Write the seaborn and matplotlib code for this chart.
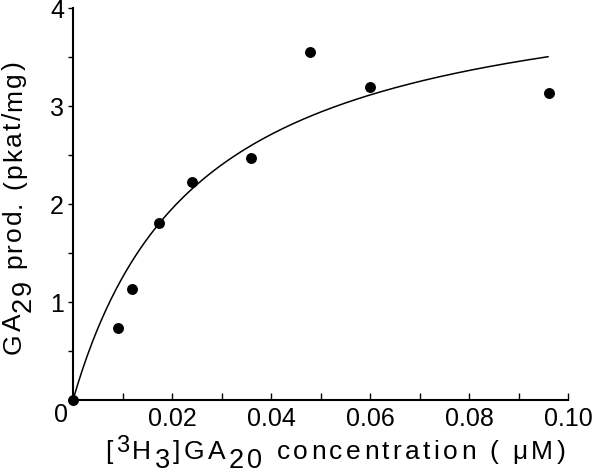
import numpy as np
import pandas as pd
import matplotlib
matplotlib.use("Agg")
import matplotlib.pyplot as plt
import matplotlib.transforms as mtransforms
from matplotlib.font_manager import FontProperties, findfont, get_font
import seaborn as sns

# measured points
conc_uM = [0.0, 0.0091, 0.0119, 0.0174, 0.0240, 0.0360, 0.0479, 0.0600, 0.0962]
prod = [0.0, 0.73, 1.13, 1.81, 2.22, 2.47, 3.55, 3.19, 3.13]

# Michaelis-Menten fit drawn through the data
vmax = 4.43
km = 0.0254
fit_end = 0.096

x_ticks = [0.02, 0.04, 0.06, 0.08, 0.10]
x_tick_labels = ["0.02", "0.04", "0.06", "0.08", "0.10"]
y_ticks = [0, 1, 2, 3, 4]
y_tick_labels = ["0", "1", "2", "3", "4"]

# axis labels as (text, size, shift up in px) so sub/superscripts keep full size
x_label = [("[", 19, 0), ("3", 17, 7), ("H", 19, 0), ("3", 19.5, -9), ("]GA", 19, 0),
           ("20", 19.5, -9), (" concentration ( \u03bcM)", 19, 0)]
y_label = [("GA", 19, 0), ("29", 19.5, -10), (" prod. (pkat/mg)", 19, 0)]

sns.set_style("white")
FAMILY = 'Liberation Sans'
plt.rcParams['font.family'] = [FAMILY, 'DejaVu Sans']
plt.rcParams['text.color'] = 'black'
plt.rcParams['xtick.color'] = 'black'
plt.rcParams['ytick.color'] = 'black'
plt.rcParams['axes.labelcolor'] = 'black'

W, H, DPI = 600, 476, 100

df = pd.DataFrame({"conc": conc_uM, "prod": prod})
s_fit = np.linspace(0, fit_end, 200)
fit_df = pd.DataFrame({"conc": s_fit, "prod": vmax * s_fit / (km + s_fit)})

fig = plt.figure(figsize=(W / DPI, H / DPI), dpi=DPI)
ax = fig.add_axes([73 / W, 1 - 400 / H, 495 / W, 392 / H])

sns.lineplot(data=fit_df, x="conc", y="prod", color="black", linewidth=1.1, ax=ax)
sns.scatterplot(data=df, x="conc", y="prod", color="black", s=62, edgecolor="black",
                linewidth=0, ax=ax, clip_on=False, zorder=3)

ax.set_xlim(0, 0.10)
ax.set_ylim(0, 4)
ax.set_xticks(x_ticks)
ax.set_xticklabels(x_tick_labels)
ax.set_xticks([0.01, 0.03, 0.05, 0.07, 0.09], minor=True)
ax.set_yticks(y_ticks)
ax.set_yticklabels(y_tick_labels)
ax.set_yticks([0.5, 1.5, 2.5, 3.5], minor=True)
ax.set_xlabel("")
ax.set_ylabel("")

for side in ["top", "right"]:
    ax.spines[side].set_visible(False)
for side in ["left", "bottom"]:
    ax.spines[side].set_linewidth(1.5)
    ax.spines[side].set_color("black")

ax.tick_params(axis="x", which="both", direction="in", length=5, width=1,
               labelsize=18, pad=5, bottom=True)
ax.tick_params(axis="y", which="both", direction="out", length=3.5, width=1,
               labelsize=18, pad=3, left=True)

# origin label sits a little lower, at the corner
lbl0 = ax.get_yticklabels()[0]
lbl0.set_transform(lbl0.get_transform() + mtransforms.ScaledTranslation(3 / 72, -9 / 72, fig.dpi_scale_trans))

ft = get_font(findfont(FontProperties(family=FAMILY)))


def advance(ch, size):
    ft.set_size(size, DPI)
    return ft.load_char(ord(ch)).linearHoriAdvance / 65536


def spaced_label(pieces, start, base, track, vertical=False):
    # lay out characters one by one with extra letter spacing (pixel coords)
    pos = start
    for txt, size, shift in pieces:
        for ch in txt:
            if vertical:
                fig.text((base - shift) / W, pos / H, ch, fontsize=size, rotation=90,
                         rotation_mode="anchor", ha="left", va="baseline")
            else:
                fig.text(pos / W, (base + shift) / H, ch, fontsize=size,
                         ha="left", va="baseline")
            pos += advance(ch, size) + track


spaced_label(x_label, start=105, base=H - 459, track=3.4)
spaced_label(y_label, start=H - 354, base=21, track=2.0, vertical=True)

fig.savefig("out.png", dpi=DPI)
